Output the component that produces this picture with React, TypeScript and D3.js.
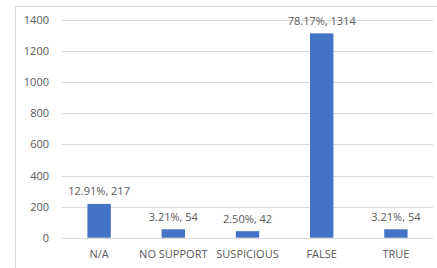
import React, { useEffect, useRef } from 'react';
import * as d3 from 'd3';

const categories = ['N/A', 'NO SUPPORT', 'SUSPICIOUS', 'FALSE', 'TRUE'];
const counts = [217, 54, 42, 1314, 54];
const percents = ['12.91%', '3.21%', '2.50%', '78.17%', '3.21%'];
const yTicks = [0, 200, 400, 600, 800, 1000, 1200, 1400];

const W = 437;
const H = 268;

const App = () => {
  const svgRef = useRef<SVGSVGElement>(null);

  useEffect(() => {
    const svg = d3.select(svgRef.current)
      .attr('width', W)
      .attr('height', H);

    svg.selectAll('*').remove();

    const font = '"Open Sans", sans-serif';
    const textColor = '#595959';

    // chart border (cropped on right/bottom)
    svg.append('rect')
      .attr('x', 15.5)
      .attr('y', 6.5)
      .attr('width', W + 10)
      .attr('height', H + 10)
      .attr('fill', 'white')
      .attr('stroke', '#d9d9d9')
      .attr('stroke-width', 1);

    const left = 62, right = 433, top = 20, bottom = 237.7;

    const x = d3.scaleBand()
      .domain(categories)
      .range([left, right])
      .padding(0);

    const y = d3.scaleLinear()
      .domain([0, 1400])
      .range([bottom, top]);

    // gridlines
    svg.append('g')
      .selectAll('line')
      .data(yTicks)
      .enter()
      .append('line')
      .attr('x1', left)
      .attr('x2', right)
      .attr('y1', d => Math.round(y(d)) + 0.5)
      .attr('y2', d => Math.round(y(d)) + 0.5)
      .attr('stroke', '#d9d9d9')
      .attr('stroke-width', 1);

    // y tick labels
    svg.append('g')
      .selectAll('text')
      .data(yTicks)
      .enter()
      .append('text')
      .attr('x', 49)
      .attr('y', d => y(d) + 4)
      .attr('text-anchor', 'end')
      .style('font-family', font)
      .style('font-size', '11px')
      .style('fill', textColor)
      .text(d => d);

    const barW = x.bandwidth() * 0.315;
    const data = categories.map((c, i) => ({ key: c, value: counts[i], pct: percents[i] }));

    svg.append('g')
      .selectAll('rect')
      .data(data)
      .enter()
      .append('rect')
      .attr('x', d => x(d.key)! + x.bandwidth() / 2 - barW / 2)
      .attr('y', d => y(d.value))
      .attr('width', barW)
      .attr('height', d => bottom - y(d.value))
      .attr('fill', '#4472c4');

    // data labels
    svg.append('g')
      .selectAll('text')
      .data(data)
      .enter()
      .append('text')
      .attr('x', d => x(d.key)! + x.bandwidth() / 2)
      .attr('y', d => y(d.value) - 8.5)
      .attr('text-anchor', 'middle')
      .style('font-family', font)
      .style('font-size', '11px')
      .style('fill', textColor)
      .text(d => `${d.pct}, ${d.value}`);

    // category labels
    svg.append('g')
      .selectAll('text')
      .data(categories)
      .enter()
      .append('text')
      .attr('x', d => x(d)! + x.bandwidth() / 2)
      .attr('y', 258)
      .attr('text-anchor', 'middle')
      .style('font-family', font)
      .style('font-size', '11px')
      .style('fill', textColor)
      .text(d => d);
  }, []);

  return <svg ref={svgRef} style={{ position: 'absolute', left: 0, top: 0 }}></svg>;
};

export default App;
